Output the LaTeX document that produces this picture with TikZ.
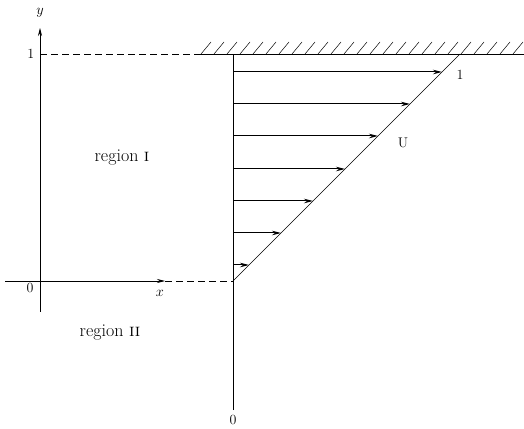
\documentclass[tikz,border=0pt]{standalone}
\usetikzlibrary{arrows.meta}
\begin{document}
\begin{tikzpicture}[x=1pt,y=1pt,line width=0.7pt,
  tip/.style={-{Stealth[length=8pt,width=4pt]}},
  vel/.style={line width=1pt,-{Stealth[length=9pt,width=4.5pt]}},
  dsh/.style={dash pattern=on 7pt off 4pt},
  lbl/.style={font=\fontsize{18}{21}\selectfont},
  num/.style={font=\fontsize{14}{16}\selectfont}]
\useasboundingbox (0,0) rectangle (524,428);
% points
\coordinate (Yb) at (40,116);
\coordinate (Yt) at (40,400);
\coordinate (Xl) at (5,147);
\coordinate (Xa) at (165,147);
\coordinate (B) at (233,147);
\coordinate (Bb) at (233,18);
\coordinate (T) at (233,374);
\coordinate (Y1) at (40,374);
\coordinate (W0) at (198,374);
\coordinate (W1) at (524,374);
\coordinate (C) at (460,374);
% axes
\draw[tip] (Yb) -- (Yt);
\draw[tip] (Xl) -- (Xa);
\draw[dsh] (Xa) -- (B);
\draw[dsh] (Y1) -- (W0);
% wall
\draw (W0) -- (W1);
\begin{scope}
\clip (198,370) rectangle (524,390);
\foreach \i in {0,...,25} \draw[line width=0.5pt] (201+13*\i,374) -- ++(10,12);
\end{scope}
% vertical and profile
\draw (Bb) -- (T);
\draw[line width=0.5pt] (B) -- (C);
\foreach \py [count=\k] in {72,104,136,169,201,233,265}{
  \coordinate (s\k) at (233,428-\py);
  \coordinate (e\k) at (233+281-\py,428-\py);
  \draw[vel] (s\k) -- (e\k);
}
% labels
\node[num] (ly) at (40,415) {$y$};
\node[num,anchor=east] (l1) at (38,374) {1};
\node[num] (l0) at (30,140) {0};
\node[num] (lx) at (160,135) {$x$};
\node[num] (lc) at (460,353) {1};
\node[num] (lU) at (403,285) {U};
\node[num] (lb) at (233,8) {0};
\node[lbl] (r1) at (122,270) {region \textsc{i}};
\node[lbl] (r2) at (110,95) {region \textsc{ii}};
\end{tikzpicture}
\end{document}
